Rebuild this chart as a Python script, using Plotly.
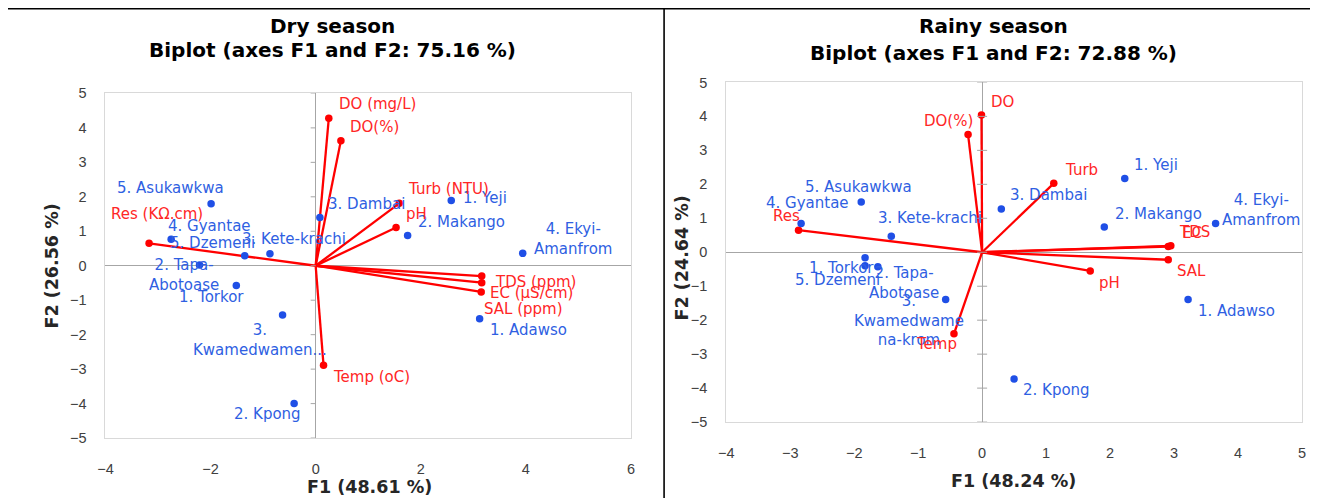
import plotly.graph_objects as go

W, H = 1318, 498

# ---------------- Data ----------------
# Dry season observations (stations)
dry_obs_names = ["5. Asukawkwa", "4. Gyantae", "5. Dzemeni", "3. Kete-krachi",
                 "2. Tapa-<br>Abotoase", "1. Torkor", "3.<br>Kwamedwamen...", "2. Kpong",
                 "3. Dambai", "1. Yeji", "2. Makango", "4. Ekyi-<br>Amanfrom", "1. Adawso"]
dry_obs_f1 = [-1.99, -2.75, -1.35, -0.87, -2.21, -1.51, -0.63, -0.41, 0.08, 2.58, 1.75, 3.94, 3.12]
dry_obs_f2 = [1.80, 0.77, 0.29, 0.35, 0.02, -0.57, -1.43, -4.00, 1.40, 1.89, 0.88, 0.36, -1.54]

# Dry season variables (loadings)
dry_var_names = ["Res (KΩ.cm)", "DO (mg/L)", "DO(%)", "Turb (NTU)", "pH",
                 "TDS (ppm)", "EC (µS/cm)", "SAL (ppm)", "Temp (oC)"]
dry_var_f1 = [-3.17, 0.25, 0.48, 1.59, 1.53, 3.16, 3.16, 3.15, 0.15]
dry_var_f2 = [0.65, 4.28, 3.63, 1.81, 1.11, -0.30, -0.49, -0.76, -2.89]

# Rainy season observations
rainy_obs_names = ["5. Asukawkwa", "4. Gyantae", "3. Kete-krachi", "1. Torkor", "5. Dzemeni",
                   "2. Tapa-<br>Abotoase", "3.<br>Kwamedwame<br>na-krom", "2. Kpong",
                   "3. Dambai", "1. Yeji", "2. Makango", "4. Ekyi-<br>Amanfrom", "1. Adawso"]
rainy_obs_f1 = [-1.89, -2.83, -1.42, -1.83, -1.83, -1.63, -0.57, 0.50, 0.30, 2.23, 1.91, 3.65, 3.22]
rainy_obs_f2 = [1.48, 0.85, 0.47, -0.16, -0.40, -0.43, -1.39, -3.73, 1.27, 2.17, 0.74, 0.85, -1.39]

# Rainy season variables
rainy_var_names = ["DO", "DO(%)", "Turb", "Res", "TDS", "EC", "SAL", "pH", "Temp"]
rainy_var_f1 = [-0.01, -0.22, 1.12, -2.87, 2.95, 2.91, 2.91, 1.69, -0.44]
rainy_var_f2 = [4.04, 3.47, 2.03, 0.65, 0.19, 0.17, -0.22, -0.55, -2.40]

# Axis ticks
dry_xticks = [-4, -2, 0, 2, 4, 6]
dry_yticks = [-5, -4, -3, -2, -1, 0, 1, 2, 3, 4, 5]
rainy_xticks = [-4, -3, -2, -1, 0, 1, 2, 3, 4, 5]
rainy_yticks = [-5, -4, -3, -2, -1, 0, 1, 2, 3, 4, 5]

# Label offsets (pixels: dx right, dy down) -- styling only
dry_obs_off = [(-40, -15), (38, -13), (-32, -12), (24, -14), (-15, 10), (-25, 11), (-22, 24),
               (-26, 10), (46, -13), (33, -3), (53, -13), (50, -14), (48, 11)]
dry_var_off = [(8, -28), (48, -14), (33, -13), (49, -14), (20, -13), (53, 6), (49, 10), (42, 17), (47, 11)]
rainy_obs_off = [(-3, -15), (6, -20), (38, -18), (-23, 10), (-27, 14), (26, 16), (-36, 20),
                 (42, 11), (47, -14), (31, -13), (54, -13), (45, -13), (48, 11)]
rainy_var_off = [(21, -13), (-19, -13), (27, -13), (-12, -14), (23, -13), (23, -13), (23, 11), (19, 12), (-17, 10)]

BLUE = "#1F4FE6"
BLUE_TXT = "#2F5FE2"
RED = "#FF0000"
RED_TXT = "#FF2626"
LAB_FONT = "DejaVu Sans, Verdana, sans-serif"
BOLD_FONT = "DejaVu Sans, Verdana, sans-serif"

# page -> picture mapping compensation (the page is shown with a small inset and scaled)
SX, SY, OFF = 1318 / 1334, 498 / 514, 16


def fx(r):
    return r / SX - OFF


def fy(r):
    return r / SY - OFF


def px(r):
    return fx(r) / W


def py(r):
    return 1 - fy(r) / H


fig = go.Figure()
annotations = []
shapes = []


def add_panel(xa, ya, obs_n, obs_x, obs_y, var_n, var_x, var_y, obs_off, var_off):
    lx, ly = [], []
    for a, b in zip(var_x, var_y):
        lx += [0, a, None]
        ly += [0, b, None]
    fig.add_trace(go.Scatter(x=lx, y=ly, mode="lines", xaxis=xa, yaxis=ya,
                             line=dict(color=RED, width=2.3), hoverinfo="skip", showlegend=False))
    fig.add_trace(go.Scatter(x=var_x, y=var_y, mode="markers", xaxis=xa, yaxis=ya,
                             marker=dict(color=RED, size=7.5), text=var_n, showlegend=False))
    fig.add_trace(go.Scatter(x=obs_x, y=obs_y, mode="markers", xaxis=xa, yaxis=ya,
                             marker=dict(color=BLUE, size=7.5), text=obs_n, showlegend=False))
    for n, a, b, (dx, dy) in zip(obs_n, obs_x, obs_y, obs_off):
        annotations.append(dict(x=a, y=b, xref=xa, yref=ya, text=n, showarrow=False,
                                xshift=dx / SX, yshift=-dy / SY,
                                font=dict(family=LAB_FONT, size=15, color=BLUE_TXT)))
    for n, a, b, (dx, dy) in zip(var_n, var_x, var_y, var_off):
        annotations.append(dict(x=a, y=b, xref=xa, yref=ya, text=n, showarrow=False,
                                xshift=dx / SX, yshift=-dy / SY,
                                font=dict(family=LAB_FONT, size=15, color=RED_TXT)))


add_panel("x", "y", dry_obs_names, dry_obs_f1, dry_obs_f2, dry_var_names, dry_var_f1, dry_var_f2,
          dry_obs_off, dry_var_off)
add_panel("x2", "y2", rainy_obs_names, rainy_obs_f1, rainy_obs_f2, rainy_var_names, rainy_var_f1,
          rainy_var_f2, rainy_obs_off, rainy_var_off)

# tick marks on the vertical zero axes
for t in dry_yticks:
    shapes.append(dict(type="line", xref="x", yref="y", xsizemode="pixel", xanchor=0,
                       x0=-5, x1=0, y0=t, y1=t, line=dict(color="#A6A6A6", width=1)))
for t in rainy_yticks:
    shapes.append(dict(type="line", xref="x2", yref="y2", xsizemode="pixel", xanchor=0,
                       x0=-5, x1=5, y0=t, y1=t, line=dict(color="#A6A6A6", width=1)))

# panel borders
for (x0, y0, x1, y1) in [(6, 8.3, 1330, 8.3), (6.5, 8, 6.5, 520), (662, 8, 662, 520)]:
    shapes.append(dict(type="line", xref="paper", yref="paper", x0=px(x0), x1=px(x1), y0=py(y0), y1=py(y1),
                       line=dict(color="black", width=1.6)))

# titles
TFONT = dict(family=BOLD_FONT, size=20, color="black")
for txt, cx, cy in [("<b>Dry season</b>", 331, 26), ("<b>Biplot (axes F1 and F2: 75.16 %)</b>", 331, 50),
                    ("<b>Rainy season</b>", 990, 26), ("<b>Biplot (axes F1 and F2: 72.88 %)</b>", 990, 53)]:
    annotations.append(dict(x=px(cx), y=py(cy), xref="paper", yref="paper", text=txt, showarrow=False,
                            xanchor="center", yanchor="middle", font=TFONT))

AFONT = dict(family=BOLD_FONT, size=17.5, color="#262626")
for txt, cx, cy, ang in [("<b>F1 (48.61 %)</b>", 368, 487, 0), ("<b>F2 (26.56 %)</b>", 52, 266, -90),
                         ("<b>F1 (48.24 %)</b>", 1010, 481, 0), ("<b>F2 (24.64 %)</b>", 680, 258, -90)]:
    annotations.append(dict(x=px(cx), y=py(cy), xref="paper", yref="paper", text=txt, showarrow=False,
                            xanchor="center", yanchor="middle", textangle=ang, font=AFONT))

axis_common = dict(showgrid=False, zeroline=True, zerolinecolor="#A6A6A6", zerolinewidth=1,
                   showline=True, linecolor="#D9D9D9", linewidth=1, mirror=True, ticks="",
                   tickfont=dict(family="Liberation Sans, Arial, sans-serif", size=14.5, color="#404040"),
                   fixedrange=True)

fig.update_layout(
    width=W, height=H,
    margin=dict(l=0, r=0, t=0, b=0),
    paper_bgcolor="white", plot_bgcolor="white",
    showlegend=False,
    xaxis=dict(domain=[px(105), px(629)], range=[-4, 6], tickvals=dry_xticks, anchor="y",
               ticklabelstandoff=18, **axis_common),
    yaxis=dict(domain=[py(438), py(93)], range=[-5, 5], tickvals=dry_yticks, anchor="x",
               ticklabelstandoff=15, **axis_common),
    xaxis2=dict(domain=[px(724), px(1298)], range=[-4, 5], tickvals=rainy_xticks, anchor="y2",
                ticklabelstandoff=18, **axis_common),
    yaxis2=dict(domain=[py(422), py(82)], range=[-5, 5], tickvals=rainy_yticks, anchor="x2",
                ticklabelstandoff=15, **axis_common),
    annotations=annotations,
    shapes=shapes,
)

fig.write_html("out.html", config={"displayModeBar": False})
